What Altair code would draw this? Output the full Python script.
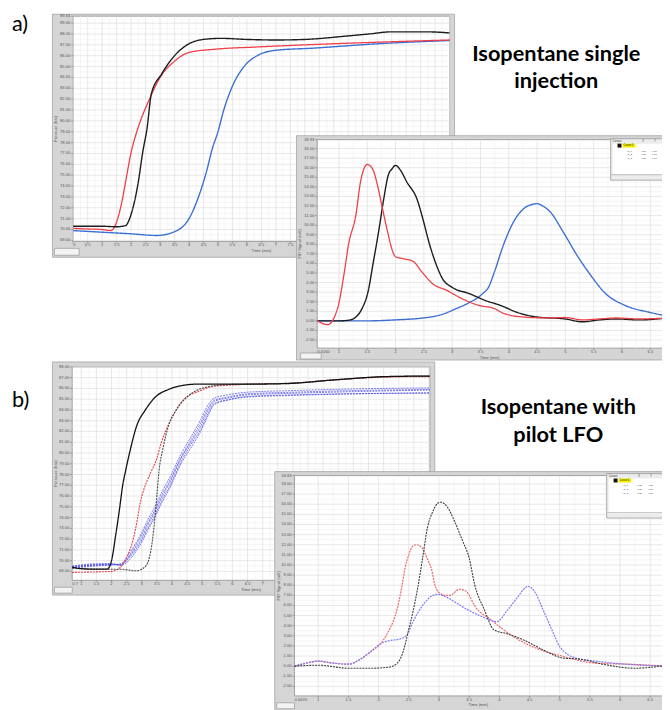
import altair as alt
import pandas as pd

# ---------------- a) pressure trace (left) ----------------
AL_T_BLACK = [0, 0.5, 1.0, 1.5, 1.8, 2.0, 2.25, 2.4, 2.55, 2.7, 3.05, 3.5, 4.0, 4.5, 5.1, 6.0, 7.0, 8.0, 9.4, 10.2, 11.0, 12.2, 13.0]
AL_P_BLACK = [70.3, 70.3, 70.3, 70.25, 70.35, 71.4, 74.4, 77.1, 79.3, 82.5, 84.3, 86.0, 87.1, 87.5, 87.6, 87.5, 87.45, 87.5, 87.8, 88.0, 88.2, 88.2, 88.1]
AL_T_RED = [0, 0.5, 1.0, 1.3, 1.5, 1.7, 1.85, 2.0, 2.15, 2.35, 2.6, 3.0, 3.5, 4.0, 4.9, 6.3, 8.0, 10.0, 13.0]
AL_P_RED = [70.1, 70.05, 70.0, 69.9, 70.7, 72.8, 75.0, 77.1, 78.6, 80.2, 81.8, 84.0, 85.5, 86.3, 86.6, 86.8, 87.0, 87.2, 87.45]
AL_T_BLUE = [0, 1.0, 2.0, 2.9, 3.5, 4.0, 4.3, 4.6, 4.8, 5.0, 5.2, 5.5, 5.9, 6.35, 7.0, 8.3, 10.5, 13.0]
AL_P_BLUE = [69.9, 69.75, 69.6, 69.45, 69.8, 71.0, 72.8, 75.3, 77.4, 79.0, 81.0, 83.2, 85.0, 86.0, 86.5, 86.7, 87.1, 87.4]

# ---------------- a) FID signal (right) ----------------
AR_T_RED = [0.62, 0.8, 0.98, 1.09, 1.17, 1.3, 1.38, 1.45, 1.5, 1.6, 1.68, 1.77, 1.86, 1.93, 2.0, 2.13, 2.3, 2.48, 2.65, 2.9, 3.18, 3.48, 3.74, 3.9, 4.26, 4.7, 5.0, 5.3, 5.6, 5.9, 6.3, 6.8]
AR_V_RED = [0.0, -0.4, 1.4, 4.9, 8.0, 11.1, 14.5, 16.0, 16.35, 15.8, 14.2, 11.7, 9.3, 7.6, 6.7, 6.5, 6.25, 5.0, 3.9, 3.2, 2.3, 1.6, 1.3, 0.8, 0.4, 0.3, 0.35, 0.1, 0.2, 0.3, 0.2, 0.3]
AR_T_BLACK = [0.62, 1.0, 1.2, 1.3, 1.4, 1.52, 1.6, 1.7, 1.79, 1.87, 1.94, 2.0, 2.08, 2.2, 2.38, 2.48, 2.6, 2.73, 2.83, 3.0, 3.3, 3.6, 3.86, 4.14, 4.5, 5.0, 5.3, 5.6, 5.9, 6.3, 6.8]
AR_V_BLACK = [0.0, 0.0, 0.1, 0.4, 1.2, 3.2, 5.9, 9.3, 12.7, 15.2, 15.9, 16.25, 15.8, 14.5, 12.7, 10.7, 8.0, 5.7, 4.4, 3.5, 2.85, 2.1, 1.6, 0.9, 0.4, 0.2, -0.1, 0.1, 0.2, 0.1, 0.3]
AR_T_BLUE = [0.62, 1.5, 2.0, 2.48, 2.78, 3.08, 3.3, 3.53, 3.65, 3.74, 3.91, 4.09, 4.26, 4.44, 4.5, 4.6, 4.73, 4.96, 5.19, 5.43, 5.71, 6.06, 6.48, 6.8]
AR_V_BLUE = [0.0, 0.0, 0.1, 0.3, 0.6, 1.3, 1.9, 2.8, 3.6, 5.0, 8.0, 10.4, 11.7, 12.2, 12.25, 12.0, 11.4, 9.3, 7.0, 4.9, 2.85, 1.6, 0.9, 0.5]

# ---------------- b) pressure trace (left) ----------------
BL_T_BLACK = [0.7, 1.0, 1.5, 1.85, 2.0, 2.14, 2.27, 2.37, 2.47, 2.63, 2.83, 3.12, 3.45, 3.88, 4.3, 4.86, 6.5, 7.8, 9.4, 11.1, 12.53]
BL_P_BLACK = [69.4, 69.25, 69.2, 69.2, 70.0, 72.4, 74.9, 77.0, 78.4, 80.4, 82.5, 84.0, 85.2, 85.9, 86.25, 86.4, 86.4, 86.45, 86.8, 87.1, 87.15]
BL_T_GRAY = [0.7, 1.5, 2.3, 2.8, 3.1, 3.3, 3.4, 3.5, 3.57, 3.7, 3.88, 4.14, 4.5, 5.1, 5.8, 6.5, 8.0, 9.4, 11.1, 12.53]
BL_P_GRAY = [69.3, 69.2, 69.2, 69.05, 69.4, 70.9, 73.0, 76.0, 78.3, 80.4, 82.5, 84.0, 85.2, 86.1, 86.35, 86.4, 86.5, 86.8, 87.1, 87.15]
BL_T_RED = [0.7, 1.5, 2.0, 2.3, 2.5, 2.67, 2.8, 2.96, 3.16, 3.3, 3.5, 3.65, 3.88, 4.1, 4.4, 4.86, 5.4, 6.2, 8.0, 9.4, 11.1, 12.53]
BL_P_RED = [68.9, 68.95, 69.0, 69.4, 70.3, 71.5, 73.0, 75.5, 77.3, 78.2, 79.5, 81.0, 82.6, 83.8, 85.0, 85.7, 86.2, 86.35, 86.5, 86.8, 87.05, 87.1]
BL_T_BLUE = [0.7, 1.5, 2.0, 2.3, 2.57, 2.8, 3.0, 3.2, 3.45, 3.65, 3.94, 4.3, 4.63, 4.95, 5.2, 5.4, 5.84, 6.5, 8.0, 10.0, 12.53]
BL_P_BLUE1 = [69.4, 69.6, 69.65, 69.6, 70.3, 71.2, 72.1, 73.3, 74.6, 75.8, 77.3, 79.5, 81.0, 82.5, 84.0, 84.8, 85.1, 85.4, 85.55, 85.7, 85.85]
BL_P_BLUE2 = [69.3, 69.5, 69.6, 69.7, 70.6, 71.6, 72.6, 73.8, 75.1, 76.3, 77.8, 79.9, 81.5, 83.1, 84.5, 85.1, 85.4, 85.65, 85.8, 85.95, 86.05]
BL_P_BLUE3 = [69.5, 69.7, 69.7, 69.55, 70.0, 70.8, 71.7, 72.8, 74.1, 75.3, 76.8, 79.0, 80.5, 82.0, 83.5, 84.5, 84.9, 85.2, 85.35, 85.5, 85.6]
BL_P_BLUE4 = [69.35, 69.55, 69.6, 69.65, 70.4, 71.4, 72.4, 73.5, 74.8, 76.0, 77.5, 79.6, 81.2, 82.8, 84.2, 84.9, 85.2, 85.5, 85.65, 85.8, 85.9]
BL_P_BLUE5 = [69.45, 69.65, 69.7, 69.6, 70.2, 71.0, 71.9, 73.0, 74.3, 75.5, 77.0, 79.2, 80.8, 82.2, 83.7, 84.6, 84.95, 85.25, 85.4, 85.5, 85.55]

# ---------------- b) FID signal (right) ----------------
BR_T_RED = [0.607, 0.8, 1.0, 1.26, 1.5, 1.7, 1.87, 2.03, 2.16, 2.31, 2.39, 2.44, 2.5, 2.57, 2.63, 2.72, 2.8, 2.88, 2.93, 3.0, 3.1, 3.18, 3.34, 3.45, 3.5, 3.59, 3.86, 4.24, 4.62, 5.06, 5.6, 6.16, 6.78]
BR_V_RED = [0.0, 0.3, 0.5, 0.3, 0.2, 0.7, 1.45, 2.2, 3.4, 5.7, 8.0, 9.75, 11.0, 11.9, 12.0, 11.7, 10.7, 9.5, 8.1, 7.3, 7.0, 7.0, 7.6, 7.4, 7.0, 6.0, 4.6, 2.9, 1.75, 0.97, 0.3, 0.2, 0.0]
BR_T_BLUE = [0.607, 0.8, 1.0, 1.26, 1.5, 1.7, 1.87, 2.03, 2.16, 2.36, 2.47, 2.57, 2.73, 2.9, 2.98, 3.13, 3.3, 3.5, 3.75, 3.96, 4.13, 4.3, 4.44, 4.47, 4.57, 4.73, 4.9, 5.0, 5.27, 5.6, 6.1, 6.78]
BR_V_BLUE = [0.0, 0.3, 0.5, 0.3, 0.2, 0.7, 1.45, 2.2, 2.5, 2.7, 3.1, 4.4, 6.0, 7.0, 7.1, 6.8, 6.2, 5.5, 4.8, 4.4, 5.5, 6.8, 7.8, 7.9, 7.5, 5.5, 3.2, 1.95, 0.8, 0.5, 0.2, 0.0]
BR_T_BLACK = [0.607, 1.0, 1.5, 1.87, 2.16, 2.31, 2.41, 2.49, 2.57, 2.65, 2.73, 2.81, 2.9, 2.98, 3.03, 3.13, 3.26, 3.39, 3.5, 3.59, 3.75, 3.91, 4.13, 4.4, 4.73, 5.06, 5.34, 5.71, 6.25, 6.78]
BR_V_BLACK = [0.0, 0.1, -0.2, -0.2, -0.1, 0.3, 1.5, 3.4, 5.4, 7.8, 10.7, 13.7, 15.3, 16.1, 16.2, 15.8, 14.3, 12.4, 10.7, 8.1, 5.6, 3.6, 3.2, 2.6, 1.6, 0.8, 0.7, 0.2, -0.2, 0.1]

# ---------------- axes: domains and tick values ----------------
AL_XDOM, AL_YDOM = [0, 13], [68.9, 89.64]
AR_XDOM, AR_YDOM = [0.616, 6.794], [-2.85, 18.93]
BL_XDOM, BL_YDOM = [0.7, 12.53], [68.17, 88.0]
BR_XDOM, BR_YDOM = [0.607, 6.777], [-2.93, 18.83]

AL_XTICKS = [i * 0.5 for i in range(27)]
AL_YTICKS = list(range(69, 90)) + [89.64]
AR_XTICKS = [1 + i * 0.5 for i in range(12)]
AR_YTICKS = list(range(-2, 19)) + [18.93]
BL_XTICKS = [1 + i * 0.5 for i in range(24)]
BL_YTICKS = list(range(69, 89))
BR_XTICKS = [1 + i * 0.5 for i in range(12)]
BR_YTICKS = list(range(-2, 19)) + [18.83]

PANEL_LABELS = ["a)", "b)"]
TITLE_A = ["Isopentane single", "injection"]
TITLE_B = ["Isopentane with", "pilot LFO"]
X_TITLE = "Time (min)"
Y_TITLE_P = "Pressure (bar)"
Y_TITLE_F = "FID Signal (mV)"
CURSOR_ROWS = ["Ag_1", "Ag_2", "Ag_3"]
CURSOR_VAL = "0.28"

FRAME = "#d5d5d5"
EDGE = "#a4a4a4"
PLOT_EDGE = "#8c8c8c"
GRID = "#dedede"
MINOR = "#efefef"
LAB = "#555555"
TFONT = "Liberation Sans"
TSIZE = 4.2
OFF = 8  # page margin: page pixel -> chart pixel
ONE = pd.DataFrame({"k": [0]})


def rect(x, x2, y, y2, fill, stroke=None, sw=0.0):
    kw = dict(fill=fill, strokeWidth=sw)
    if stroke is not None:
        kw["stroke"] = stroke
    return alt.Chart(ONE).mark_rect(**kw).encode(
        x=alt.value(x - OFF), x2=alt.value(x2 - OFF), y=alt.value(y - OFF), y2=alt.value(y2 - OFF))


def text(t, x, y, size, color="#000000", font=TFONT, weight="normal", align="left",
         baseline="top", angle=0):
    return alt.Chart(pd.DataFrame({"label": [t]})).mark_text(
        align=align, baseline=baseline, font=font, fontSize=size, fontWeight=weight,
        color=color, angle=angle).encode(
        x=alt.value(x - OFF), y=alt.value(y - OFF), text="label:N")


def cursor_box(x0, y0, y1):
    parts = [
        rect(x0, x0 + 75, y0, y1, "#ececec", "#9a9a9a", 0.8),
        rect(x0 + 2, x0 + 75, y0 + 5, y1 - 6, "#ffffff"),
        rect(x0 + 7, x0 + 11, y0 + 5, y0 + 9, "#111111"),
        rect(x0 + 12, x0 + 25, y0 + 5, y0 + 9, "#f4f000"),
        rect(x0, x0 + 75, y1 - 6, y1 - 5, "#bdbdbd"),
        text("Cursors", x0 + 2, y0 + 1, 2.6, "#333333"),
        text("X", x0 + 32, y0 + 1, 2.6, "#333333"),
        text("Y", x0 + 44, y0 + 1, 2.6, "#333333"),
        text("Cursor 0", x0 + 13, y0 + 5.5, 2.6, "#222222"),
    ]
    for k, name in enumerate(CURSOR_ROWS):
        yy = y0 + 11 + 4 * k
        parts.append(text(name, x0 + 16, yy, 2.4, "#444444"))
        parts.append(text(CURSOR_VAL, x0 + 31, yy, 2.4, "#444444"))
        parts.append(text(CURSOR_VAL, x0 + 42, yy, 2.4, "#444444"))
    return parts


def panel(plot, frame, xdom, ydom, xticks, yticks, ytitle, series, toolbar, extras=()):
    px0, px1, py0, py1 = plot
    fx0, fx1, fy0, fy1 = frame
    xs = alt.Scale(domain=xdom, range=[px0 - OFF, px1 - OFF], nice=False, zero=False)
    ys = alt.Scale(domain=ydom, range=[py1 - OFF, py0 - OFF], nice=False, zero=False)
    X = lambda f: alt.X(f, scale=xs, axis=None)
    Y = lambda f: alt.Y(f, scale=ys, axis=None)

    layers = [rect(fx0, fx1, fy0, fy1, FRAME, EDGE, 0.8),
              rect(px0, px1, py0, py1, "#ffffff", PLOT_EDGE, 0.8)]

    yint = [v for v in yticks if float(v).is_integer()]
    xminor = [(a + b) / 2 for a, b in zip(xticks[:-1], xticks[1:])]
    yminor = [(a + b) / 2 for a, b in zip(yint[:-1], yint[1:])]
    layers.append(alt.Chart(pd.DataFrame({"g": xminor})).mark_rule(color=MINOR, strokeWidth=0.6).encode(
        x=X("g:Q"), y=alt.value(py0 - OFF), y2=alt.value(py1 - OFF)))
    layers.append(alt.Chart(pd.DataFrame({"g": yminor})).mark_rule(color=MINOR, strokeWidth=0.6).encode(
        y=Y("g:Q"), x=alt.value(px0 - OFF), x2=alt.value(px1 - OFF)))
    layers.append(alt.Chart(pd.DataFrame({"g": xticks})).mark_rule(color=GRID, strokeWidth=0.7).encode(
        x=X("g:Q"), y=alt.value(py0 - OFF), y2=alt.value(py1 - OFF)))
    layers.append(alt.Chart(pd.DataFrame({"g": yint})).mark_rule(color=GRID, strokeWidth=0.7).encode(
        y=Y("g:Q"), x=alt.value(px0 - OFF), x2=alt.value(px1 - OFF)))
    # tick marks
    layers.append(alt.Chart(pd.DataFrame({"g": yticks})).mark_rule(color="#707070", strokeWidth=0.6).encode(
        y=Y("g:Q"), x=alt.value(px0 - OFF - 2), x2=alt.value(px0 - OFF)))
    layers.append(alt.Chart(pd.DataFrame({"g": xticks})).mark_rule(color="#707070", strokeWidth=0.6).encode(
        x=X("g:Q"), y=alt.value(py1 - OFF), y2=alt.value(py1 - OFF + 2)))

    # data lines
    for ts, vs, color, dash, width, opac in series:
        layers.append(alt.Chart(pd.DataFrame({"t": ts, "v": vs})).mark_line(
            color=color, strokeDash=dash, strokeWidth=width, opacity=opac,
            interpolate="monotone").encode(x=X("t:Q"), y=Y("v:Q")))

    # tick labels
    ylab = pd.DataFrame({"g": yticks, "lab": [f"{v:.2f}" for v in yticks]})
    layers.append(alt.Chart(ylab).mark_text(align="right", baseline="middle", font=TFONT,
                                            fontSize=TSIZE, color=LAB).encode(
        y=Y("g:Q"), x=alt.value(px0 - OFF - 3), text="lab:N"))
    inner = [v for v in xticks if xdom[0] < v < xdom[1] - 0.05]
    xlab = pd.DataFrame({"g": inner, "lab": [f"{v:g}" for v in inner]})
    layers.append(alt.Chart(xlab).mark_text(align="center", baseline="top", font=TFONT,
                                            fontSize=TSIZE, color=LAB).encode(
        x=X("g:Q"), y=alt.value(py1 - OFF + 2), text="lab:N"))
    first = xdom[0]
    gap = (inner[0] - first) / (xdom[1] - xdom[0]) * (px1 - px0)
    first_txt = f"{first:g}" if (first == 0 or gap < 16) else f"{first:.4f}"
    layers.append(alt.Chart(pd.DataFrame({"g": [first], "lab": [first_txt]})).mark_text(
        align="left", baseline="top", font=TFONT, fontSize=TSIZE, color=LAB).encode(
        x=X("g:Q"), y=alt.value(py1 - OFF + 2), text="lab:N"))
    if xticks[-1] >= xdom[1] - 0.05:
        layers.append(alt.Chart(pd.DataFrame({"g": [xticks[-1]], "lab": [f"{xticks[-1]:g}"]})).mark_text(
            align="right", baseline="top", font=TFONT, fontSize=TSIZE, color=LAB).encode(
            x=X("g:Q"), y=alt.value(py1 - OFF + 2), text="lab:N"))

    # axis titles
    layers.append(text(X_TITLE, (px0 + min(px1, 670)) / 2, py1 + 7.5, TSIZE, LAB, align="center"))
    layers.append(text(ytitle, fx0 + 4, (py0 + py1) / 2, TSIZE, LAB, align="center",
                       baseline="middle", angle=270))
    # tool palette at the bottom-left of the graph frame
    tx0, tx1, ty0, ty1 = toolbar
    layers.append(rect(tx0, tx1, ty0, ty1, "#f3f3f3", "#8a8a8a", 0.6))
    layers.extend(extras)
    return alt.layer(*layers)


SOLID = [1, 0]
DOT = [2, 1]

a_left = panel(
    (74, 455, 12, 240), (53, 460, 10, 256), AL_XDOM, AL_YDOM, AL_XTICKS, AL_YTICKS, Y_TITLE_P,
    [(AL_T_BLUE, AL_P_BLUE, "#3d6fd3", SOLID, 1.4, 1.0),
     (AL_T_RED, AL_P_RED, "#ef3e45", SOLID, 1.3, 1.0),
     (AL_T_BLACK, AL_P_BLACK, "#1c1c1c", SOLID, 1.4, 1.0)],
    (55, 80, 247, 254))

a_right = panel(
    (321, 675, 137, 348), (300, 690, 133, 360), AR_XDOM, AR_YDOM, AR_XTICKS, AR_YTICKS, Y_TITLE_F,
    [(AR_T_BLUE, AR_V_BLUE, "#3d6fd3", SOLID, 1.4, 1.0),
     (AR_T_BLACK, AR_V_BLACK, "#1c1c1c", SOLID, 1.4, 1.0),
     (AR_T_RED, AR_V_RED, "#ef3e45", SOLID, 1.3, 1.0)],
    (304, 325, 353, 359), cursor_box(618, 136, 178))

b_left = panel(
    (73, 435, 367, 583), (53, 440, 362, 598), BL_XDOM, BL_YDOM, BL_XTICKS, BL_YTICKS, Y_TITLE_P,
    [(BL_T_BLUE, BL_P_BLUE1, "#3b3be4", DOT, 0.9, 0.75),
     (BL_T_BLUE, BL_P_BLUE2, "#3b3be4", DOT, 0.9, 0.75),
     (BL_T_BLUE, BL_P_BLUE3, "#3b3be4", DOT, 0.9, 0.75),
     (BL_T_BLUE, BL_P_BLUE4, "#3b3be4", DOT, 0.9, 0.75),
     (BL_T_BLUE, BL_P_BLUE5, "#3b3be4", DOT, 0.9, 0.75),
     (BL_T_RED, BL_P_RED, "#e8404a", DOT, 1.1, 1.0),
     (BL_T_GRAY, BL_P_GRAY, "#4a4a4a", DOT, 1.1, 1.0),
     (BL_T_BLACK, BL_P_BLACK, "#111111", SOLID, 1.3, 1.0)],
    (55, 73, 590, 596))

b_right = panel(
    (298, 675, 477, 700), (278, 690, 473, 720), BR_XDOM, BR_YDOM, BR_XTICKS, BR_YTICKS, Y_TITLE_F,
    [(BR_T_RED, BR_V_RED, "#f0646a", DOT, 1.2, 1.0),
     (BR_T_BLUE, BR_V_BLUE, "#7c7cf2", DOT, 1.2, 1.0),
     (BR_T_BLACK, BR_V_BLACK, "#3c3c3c", DOT, 1.1, 1.0)],
    (280, 298, 707, 713), cursor_box(614, 475, 520))

labels = [
    text(PANEL_LABELS[0], 12, 27, 22, font="Lato", baseline="alphabetic"),
    text(PANEL_LABELS[1], 12, 408, 22, font="Lato", baseline="alphabetic"),
    text(TITLE_A[0], 563, 57, 22, font="Lato", weight="bold", align="center", baseline="alphabetic"),
    text(TITLE_A[1], 563, 85, 22, font="Lato", weight="bold", align="center", baseline="alphabetic"),
    text(TITLE_B[0], 565, 415, 22, font="Lato", weight="bold", align="center", baseline="alphabetic"),
    text(TITLE_B[1], 565, 443, 22, font="Lato", weight="bold", align="center", baseline="alphabetic"),
]

chart = alt.layer(a_left, a_right, b_left, b_right, *labels).resolve_scale(
    x="independent", y="independent"
).properties(
    width=662, height=702, padding=0, background="#ffffff",
    autosize=alt.AutoSizeParams(type="none"),
).configure_view(strokeWidth=0)

chart.save("out.html", embed_options={"renderer": "svg", "actions": False})
